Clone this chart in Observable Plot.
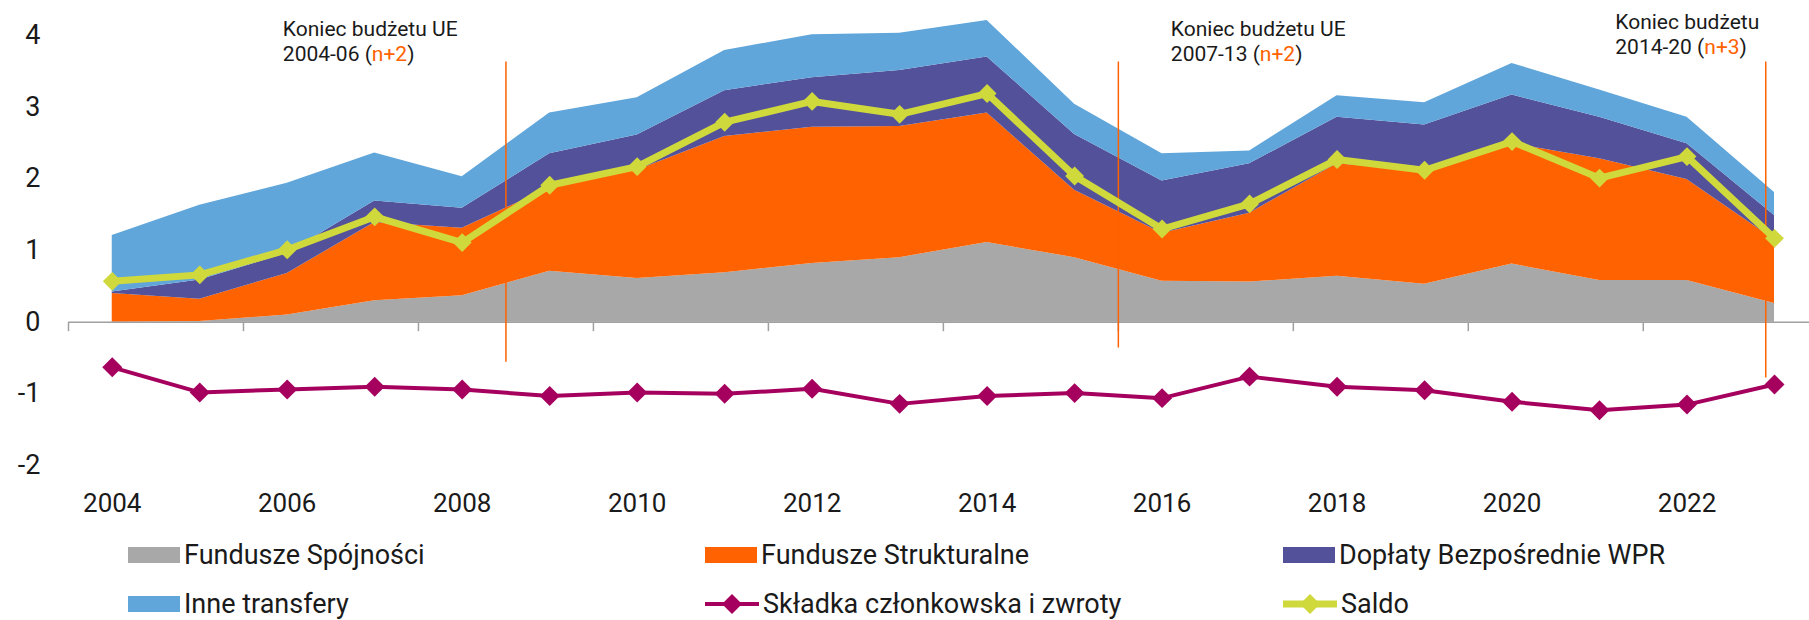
<!DOCTYPE html>
<html><head><meta charset="utf-8">
<script src="https://cdn.jsdelivr.net/npm/d3@7"></script>
<script src="https://cdn.jsdelivr.net/npm/@observablehq/plot@0.6"></script>
<style>
body{margin:0;background:#fff;font-family:Roboto,"Noto Sans",sans-serif;color:#1a1a1a}
#legend{display:grid;grid-template-columns:577px 578px 520px;padding-left:128px;grid-auto-rows:49px;align-items:center;font-size:27px;width:1681px}
.item{display:flex;align-items:center;white-space:nowrap}
.item svg{margin-right:4px;flex:none}
</style></head><body>
<div id="chart"></div><div id="legend"></div>
<script>
const years = [2004,2005,2006,2007,2008,2009,2010,2011,2012,2013,2014,2015,2016,2017,2018,2019,2020,2021,2022,2023];
const fundSpojnosci   = [0.00,0.01,0.10,0.30,0.37,0.71,0.61,0.69,0.82,0.90,1.11,0.90,0.57,0.56,0.64,0.53,0.81,0.58,0.58,0.26];
const fundStrukturalne= [0.40,0.31,0.58,1.09,0.94,1.16,1.51,1.90,1.90,1.83,1.81,0.94,0.67,0.96,1.57,1.58,1.68,1.70,1.41,0.89];
const doplaty         = [0.02,0.27,0.28,0.30,0.28,0.48,0.49,0.64,0.69,0.78,0.78,0.78,0.73,0.69,0.65,0.64,0.68,0.58,0.50,0.34];
const inneTransfery   = [0.79,1.04,0.98,0.67,0.44,0.57,0.52,0.56,0.60,0.52,0.51,0.42,0.38,0.18,0.30,0.31,0.44,0.38,0.37,0.32];
const skladka         = [-0.63,-0.98,-0.94,-0.90,-0.94,-1.03,-0.98,-1.00,-0.93,-1.14,-1.03,-0.99,-1.06,-0.76,-0.90,-0.95,-1.11,-1.23,-1.15,-0.87];
const saldo           = [0.57,0.66,1.01,1.47,1.11,1.91,2.17,2.79,3.08,2.90,3.19,2.04,1.30,1.65,2.27,2.12,2.52,2.01,2.31,1.17];

const seriesNames  = ["Fundusze Spójności","Fundusze Strukturalne","Dopłaty Bezpośrednie WPR","Inne transfery"];
const seriesColors = ["#a8a8a8","#ff6200","#525199","#60a6da"];
const lineNames    = ["Składka członkowska i zwroty","Saldo"];
const lineColors   = ["#a6005f","#d0d93c"];

const yTicks = [-2,-1,0,1,2,3,4];
const xTicks = [2004,2006,2008,2010,2012,2014,2016,2018,2020,2022];
const tickBounds = [2003.5,2005.5,2007.5,2009.5,2011.5,2013.5,2015.5,2017.5,2019.5,2021.5];

const budgetX      = [2008.5, 2015.5, 2022.9];
const budgetTop    = [3.63, 3.63, 3.63];
const budgetBottom = [-0.56, -0.36, -0.78];

const annoX    = [2005.95, 2016.1, 2021.18];
const annoY    = [3.93, 3.93, 4.03];
const annoText = ["Koniec budżetu UE\n2004-06 (n+2)", "Koniec budżetu UE\n2007-13 (n+2)", "Koniec budżetu\n2014-20 (n+3)"];
const accent = "#ff6200";

const seriesValues = [fundSpojnosci, fundStrukturalne, doplaty, inneTransfery];
const stackData = seriesNames.flatMap((name, k) => years.map((yr, i) => ({year: yr, series: name, value: seriesValues[k][i]})));
const lineData = years.map((yr, i) => ({year: yr, skladka: skladka[i], saldo: saldo[i]}));
const budgetData = budgetX.map((x, i) => ({x, top: budgetTop[i], bottom: budgetBottom[i]}));
const annoData = annoX.map((x, i) => ({x, y: annoY[i], text: annoText[i]}));

const tickSymbol = {draw(ctx){ ctx.moveTo(0,0); ctx.lineTo(0,9); }};

const chart = Plot.plot({
  width: 1809,
  height: 530,
  marginLeft: 68,
  marginRight: 0,
  marginTop: 35,
  marginBottom: 65,
  style: {fontFamily: "Roboto, 'Noto Sans', sans-serif", fontSize: "26px", color: "#1a1a1a", background: "#fff", overflow: "visible"},
  x: {domain: [2003.5, 2023.4]},
  y: {domain: [-2, 4]},
  color: {domain: seriesNames, range: seriesColors},
  marks: [
    Plot.areaY(stackData, {x: "year", y: "value", fill: "series", order: seriesNames, curve: "linear"}),
    Plot.ruleY([0], {stroke: "#a0a0a0", strokeWidth: 1.5}),
    Plot.dot(tickBounds, {x: d => d, y: 0, symbol: tickSymbol, stroke: "#a0a0a0", strokeWidth: 1.5, fill: "none", r: 5}),
    Plot.ruleX(budgetData, {x: "x", y1: "top", y2: "bottom", stroke: accent, strokeWidth: 1.5}),
    Plot.line(lineData, {x: "year", y: "skladka", stroke: lineColors[0], strokeWidth: 4}),
    Plot.dot(lineData, {x: "year", y: "skladka", symbol: "diamond2", r: 9, fill: lineColors[0]}),
    Plot.line(lineData, {x: "year", y: "saldo", stroke: lineColors[1], strokeWidth: 7}),
    Plot.dot(lineData, {x: "year", y: "saldo", symbol: "diamond2", r: 8.5, fill: lineColors[1]}),
    Plot.text(annoData, {x: "x", y: "y", text: "text", textAnchor: "start", lineAnchor: "middle", lineHeight: 1.2, fontSize: 21, fill: "#1a1a1a"}),
    Plot.axisY(yTicks, {tickSize: 0, tickPadding: 28, tickFormat: d => String(d), fontSize: 27}),
    Plot.axisX(xTicks, {tickSize: 0, tickPadding: 28, tickFormat: d => String(d), fontSize: 26})
  ]
});
document.getElementById("chart").appendChild(chart);

// colour the "(n+x)" parts of annotations
d3.select(chart).selectAll("text, tspan").each(function(){
  if (this.children.length) return;
  const m = this.textContent.match(/^(.*\()(n\+\d)(\).*)$/);
  if (!m) return;
  this.textContent = m[1];
  const ts = document.createElementNS("http://www.w3.org/2000/svg", "tspan");
  ts.setAttribute("fill", accent);
  ts.textContent = m[2];
  this.appendChild(ts);
  this.appendChild(document.createTextNode(m[3]));
});

// legend
const legend = d3.select("#legend");
seriesNames.forEach((name, i) => {
  const it = legend.append("div").attr("class", "item");
  const s = it.append("svg").attr("width", 52).attr("height", 16);
  s.append("rect").attr("width", 52).attr("height", 16).attr("fill", seriesColors[i]);
  it.append("span").text(name);
});
lineNames.forEach((name, i) => {
  const it = legend.append("div").attr("class", "item");
  const sw = i === 0 ? 4 : 7;
  const s = it.append("svg").attr("width", 54).attr("height", 22);
  s.append("line").attr("x1", 0).attr("x2", 54).attr("y1", 11).attr("y2", 11).attr("stroke", lineColors[i]).attr("stroke-width", sw);
  s.append("path").attr("d", d3.symbol(d3.symbolDiamond2, Math.PI * 81)()).attr("transform", "translate(27,11)").attr("fill", lineColors[i]);
  it.append("span").text(name);
});
</script>
</body></html>
